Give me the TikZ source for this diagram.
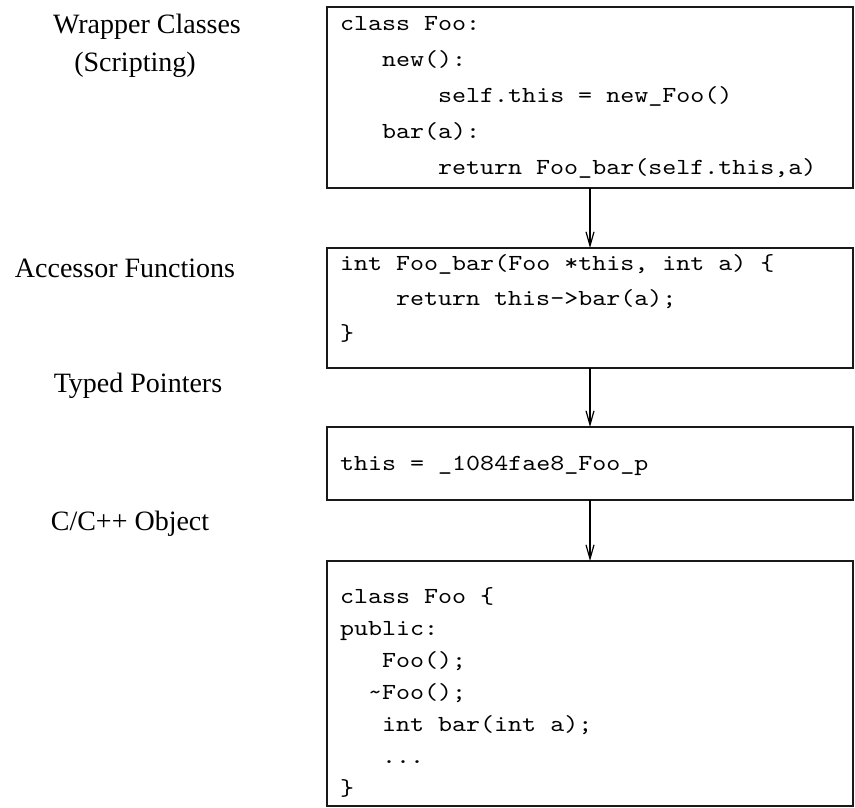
\documentclass[tikz,border=0pt]{standalone}
\usepackage{fontspec}
\setmainfont{Liberation Serif}
\newfontfamily\codefont[FakeStretch=1.16]{lmmono10-regular.otf}
\usetikzlibrary{arrows.meta}

\begin{document}
\begin{tikzpicture}[x=1pt,y=-1pt,
  layerbox/.style={draw=black!90, line width=1.4pt, inner sep=0pt, outer sep=0pt,
                   anchor=north west, minimum width=526pt},
  code/.style={anchor=base west, inner sep=0pt, font=\codefont\fontsize{23}{28}\selectfont},
  lbl/.style={anchor=base, inner sep=0pt, font=\fontsize{28}{32}\selectfont},
  flow/.style={line width=1.2pt, -{Straight Barb[length=14pt,width=8pt]}}]
\useasboundingbox (0,0) rectangle (855,807);

% layer captions
\node[lbl] (capwrap) at (147,33) {Wrapper Classes};
\node[lbl] (capscript) at (135,71) {(Scripting)};
\node[lbl] (capacc) at (125,277) {Accessor Functions};
\node[lbl] (capptr) at (138,392) {Typed Pointers};
\node[lbl] (capobj) at (130,530) {C/C++ Object};

% layer boxes
\node[layerbox, minimum height=181pt] (wrap) at (327,7) {};
\node[layerbox, minimum height=120pt] (acc) at (327,248) {};
\node[layerbox, minimum height=73pt] (ptr) at (327,427) {};
\node[layerbox, minimum height=245pt] (obj) at (327,561) {};

% scripting wrapper class
\node[code] (w1) at (340,30) {class Foo:};
\node[code] (w2) at (382,66) {new():};
\node[code] (w3) at (438,102) {self.this = new\_Foo()};
\node[code] (w4) at (382,138) {bar(a):};
\node[code] (w5) at (438,174) {return Foo\_bar(self.this,a)};

% accessor function
\node[code] (a1) at (340,270) {int Foo\_bar(Foo *this, int a) \{};
\node[code] (a2) at (396,305) {return this->bar(a);};
\node[code] (a3) at (340,340) {\}};

% typed pointer
\node[code] (p1) at (340,470) {this = \_1084fae8\_Foo\_p};

% C++ class
\node[code] (o1) at (340,603) {class Foo \{};
\node[code] (o2) at (340,635) {public:};
\node[code] (o3) at (382,667) {Foo();};
\node[code] (o4) at (368,699) {\textasciitilde Foo();};
\node[code] (o5) at (382,731) {int bar(int a);};
\node[code] (o6) at (382,763) {...};
\node[code] (o7) at (340,795) {\}};

% connectors
\draw[flow] (wrap.south) -- (acc.north);
\draw[flow] (acc.south) -- (ptr.north);
\draw[flow] (ptr.south) -- (obj.north);
\end{tikzpicture}
\end{document}
